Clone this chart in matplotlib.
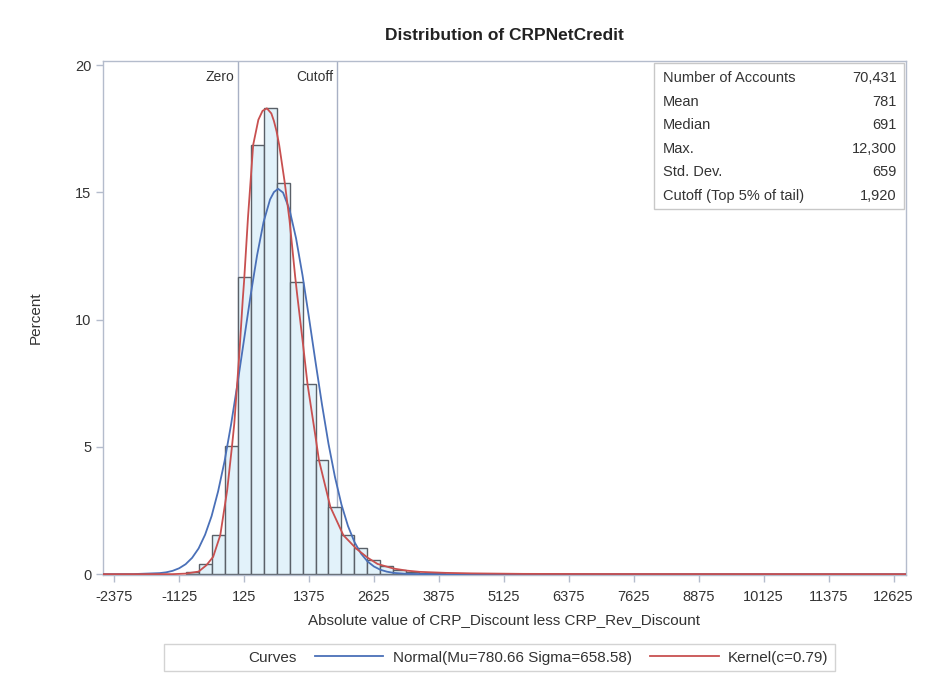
import numpy as np
import matplotlib.pyplot as plt
from matplotlib.lines import Line2D

plt.rcParams['font.family'] = ['Liberation Sans', 'DejaVu Sans']
plt.rcParams['axes.unicode_minus'] = False

# histogram bins (left edge) and percent of accounts
bin_left = [-1000, -750, -500, -250, 0, 250, 500, 750, 1000, 1250, 1500,
            1750, 2000, 2250, 2500, 2750, 3000, 3250, 3500, 3750]
pct = [0.08, 0.4, 1.55, 5.05, 11.68, 16.86, 18.30, 15.38, 11.49, 7.47, 4.48,
       2.64, 1.53, 1.01, 0.55, 0.31, 0.18, 0.10, 0.06, 0.04]
bin_width = 250

# fitted normal curve
normal_x = [-2590, -2000, -1500, -1375, -1250, -1125, -1000, -875, -750, -625,
            -500, -375, -250, -125, 0, 125, 250, 375, 500, 625, 700, 780, 875,
            1000, 1125, 1250, 1375, 1500, 1625, 1750, 1875, 2000, 2125, 2250,
            2375, 2500, 2625, 2750, 2875, 3000, 3250, 3500, 4000, 12860]
normal_y = [0.0, 0.002, 0.04, 0.071, 0.13, 0.23, 0.39, 0.64, 1.01, 1.55,
            2.28, 3.25, 4.44, 5.88, 7.50, 9.22, 10.94, 12.52, 13.83, 14.72,
            15.01, 15.14, 14.99, 14.32, 13.20, 11.74, 10.07, 8.34, 6.66, 5.12,
            3.81, 2.73, 1.89, 1.26, 0.81, 0.50, 0.30, 0.17, 0.096, 0.05, 0.013,
            0.003, 0.0, 0.0]

# kernel density curve
kernel_x = [-2590, -1250, -1000, -750, -600, -470, -333, -200, -107, -63, 0, 30,
            100, 125, 200, 300, 400, 480, 564, 650, 700, 750, 801, 908, 1000,
            1109, 1146, 1250, 1346, 1500, 1566, 1786, 2036, 2286, 2500, 2694,
            3000, 3250, 3500, 4000, 4500, 5500, 7000, 12860]
kernel_y = [0.0, 0.0, 0.02, 0.1, 0.35, 0.68, 1.53, 3.3, 5.03, 5.92, 7.7, 8.54,
            10.8, 11.5, 14.0, 16.86, 17.85, 18.2, 18.3, 18.1, 17.8, 17.4, 16.86,
            15.38, 13.9, 11.68, 11.0, 9.2, 7.47, 5.4, 4.48, 2.64, 1.53, 1.0,
            0.65, 0.4, 0.22, 0.14, 0.09, 0.05, 0.03, 0.01, 0.005, 0.0]

zero_line = 0
cutoff_line = 1920

xticks = [-2375, -1125, 125, 1375, 2625, 3875, 5125, 6375, 7625, 8875,
          10125, 11375, 12625]
yticks = [0, 5, 10, 15, 20]

stat_labels = ['Number of Accounts', 'Mean', 'Median', 'Max.', 'Std. Dev.',
               'Cutoff (Top 5% of tail)']
stat_values = ['70,431', '781', '691', '12,300', '659', '1,920']

frame_col = '#b4bccc'
text_col = '#333333'

fig = plt.figure(figsize=(9.28, 6.98), dpi=100)
ax = fig.add_axes([0.111, 0.176, 0.865, 0.7366])

ax.bar(bin_left, pct, width=bin_width, align='edge', color='#e2f2fa',
       edgecolor='#5a6068', linewidth=1.0, zorder=2)

ax.axvline(zero_line, color='#a8b0c4', linewidth=1.0, zorder=1)
ax.axvline(cutoff_line, color='#a8b0c4', linewidth=1.0, zorder=1)
ax.text(zero_line - 70, 19.55, 'Zero', ha='right', va='center', fontsize=10,
        color=text_col)
ax.text(cutoff_line - 70, 19.55, 'Cutoff', ha='right', va='center',
        fontsize=10, color=text_col)

ln_norm, = ax.plot(normal_x, normal_y, color='#4a70b8', linewidth=1.3, zorder=3)
ln_kern, = ax.plot(kernel_x, kernel_y, color='#c85050', linewidth=1.3, zorder=3)

ax.set_xlim(-2590, 12860)
ax.set_ylim(-0.04, 20.16)
ax.set_xticks(xticks)
ax.set_yticks(yticks)
ax.tick_params(colors=frame_col, labelcolor=text_col, labelsize=10.5,
               length=5, width=1)
ax.tick_params(axis='x', pad=6)
for sp in ax.spines.values():
    sp.set_color(frame_col)
    sp.set_linewidth(1.0)

ax.set_xlabel('Absolute value of CRP_Discount less CRP_Rev_Discount',
              fontsize=11, color=text_col, labelpad=6)
ax.set_ylabel('Percent', fontsize=11, color=text_col, labelpad=23)
ax.set_title('Distribution of CRPNetCredit', fontsize=12.5, fontweight='bold',
             color='#222222', pad=15)

# statistics inset table
box = plt.Rectangle((0.687, 0.712), 0.3105, 0.284, transform=ax.transAxes,
                    facecolor='white', edgecolor='#c8c8c8', linewidth=1.0,
                    zorder=4)
ax.add_patch(box)
for i, (lab, val) in enumerate(zip(stat_labels, stat_values)):
    y = 0.967 - i * 0.0459
    ax.text(0.697, y, lab, transform=ax.transAxes, ha='left', va='center',
            fontsize=10.5, color=text_col, zorder=5)
    ax.text(0.989, y, val, transform=ax.transAxes, ha='right', va='center',
            fontsize=10.5, color=text_col, zorder=5)

# legend
blank = Line2D([], [], color='none')
leg = fig.legend([blank, ln_norm, ln_kern],
                 ['Curves', 'Normal(Mu=780.66 Sigma=658.58)', 'Kernel(c=0.79)'],
                 loc='center', bbox_to_anchor=(0.538, 0.058), ncol=3,
                 frameon=True, fontsize=11, handlelength=4.5,
                 handletextpad=0.6, columnspacing=1.2, fancybox=False,
                 borderpad=0.4)
leg.get_frame().set_edgecolor('#c8c8c8')
leg.get_frame().set_linewidth(1.0)
for t in leg.get_texts():
    t.set_color(text_col)

fig.savefig('out.png', dpi=100)
